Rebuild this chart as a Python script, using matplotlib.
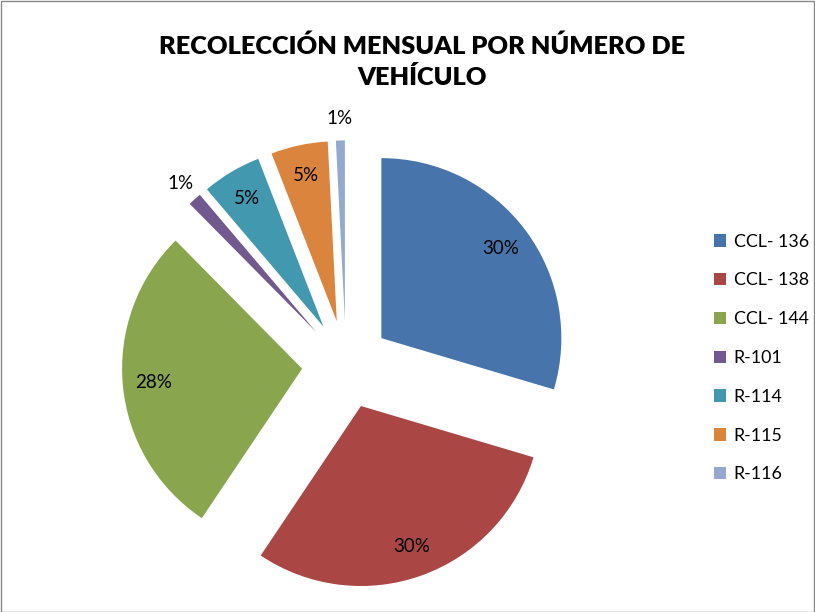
import matplotlib
matplotlib.use("Agg")
import matplotlib.pyplot as plt
import numpy as np
from matplotlib.patches import Rectangle

categories = ["CCL- 136", "CCL- 138", "CCL- 144", "R-101", "R-114", "R-115", "R-116"]
values = [29.6, 29.8, 28.2, 1.2, 5.3, 5.1, 0.8]
colors = ["#4674AB", "#AA4643", "#89A54E", "#71588F", "#4198AF", "#DB843D", "#93A9CF"]
title = "RECOLECCIÓN MENSUAL POR NÚMERO DE\nVEHÍCULO"

W, H = 815, 612
fig = plt.figure(figsize=(W / 100, H / 100), dpi=100)
plt.rcParams['font.family'] = ['Lato', 'DejaVu Sans']

R = 180.0
cx, cy = 346.0, 364.5
ax_left_px, ax_right_px = 96, 596
ax_top_px, ax_bot_px = 100, 612
ax = fig.add_axes([ax_left_px / W, 1 - ax_bot_px / H, (ax_right_px - ax_left_px) / W, (ax_bot_px - ax_top_px) / H])

explode = [0.245] * len(values)
wedges, texts, autotexts = ax.pie(values, colors=colors, explode=explode, startangle=90,
                                  counterclock=False, autopct='%1.0f%%', pctdistance=0.83,
                                  radius=1.0, textprops=dict(fontsize=13.5, color='black'))
ax.set_aspect('auto')
ax.set_xlim((ax_left_px - cx) / R, (ax_right_px - cx) / R)
ax.set_ylim((cy - ax_bot_px) / R, (cy - ax_top_px) / R)
ax.axis('off')

for w, t, v in zip(wedges, autotexts, values):
    w.set_clip_on(False)
    if v < 2:
        mid = np.deg2rad((w.theta1 + w.theta2) / 2)
        d = 1.12
        t.set_position((w.center[0] + d * np.cos(mid), w.center[1] + d * np.sin(mid)))
    t.set_clip_on(False)

fig.text(422 / W, 1 - 62 / H, title, ha='center', va='center', fontsize=18.3,
         fontweight='heavy', linespacing=1.4)

leg = fig.legend(wedges, categories, loc='center left',
                 bbox_to_anchor=(698 / W, 1 - 358 / H), frameon=False,
                 fontsize=12.8, handlelength=0.7, handleheight=0.7,
                 labelspacing=1.28, handletextpad=0.4)

fig.patches.append(Rectangle((0.5 / W, 0.5 / H), 1 - 1.5 / W, 1 - 1.5 / H, transform=fig.transFigure,
                             fill=False, edgecolor='#888888', linewidth=1))

fig.savefig("out.png", dpi=100)
